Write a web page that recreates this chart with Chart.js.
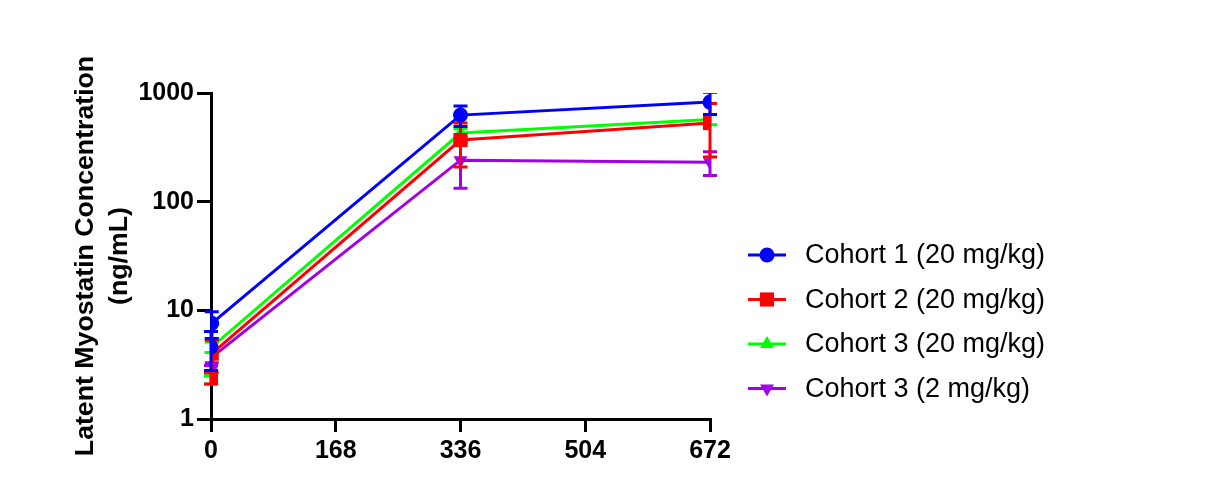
<!DOCTYPE html>
<html>
<head>
<meta charset="utf-8">
<script src="https://cdn.jsdelivr.net/npm/chart.js@4/dist/chart.umd.min.js"></script>
<style>
  html, body { margin: 0; padding: 0; background: #fff; }
</style>
</head>
<body>
<canvas id="chart" width="1210" height="478"></canvas>
<script>
// Sample times (hours) and values
const hours = [0, 1, 336, 672];
const xTicks = [0, 168, 336, 504, 672];
const yTicks = [1, 10, 100, 1000];

const seriesLabels = ["Cohort 1 (20 mg/kg)", "Cohort 2 (20 mg/kg)", "Cohort 3 (20 mg/kg)", "Cohort 3 (2 mg/kg)"];

const cohort1Mean = [4.6, 7.6, 626, 825];
const cohort1Sd = [1.8, 2.1, 134, 190];
const cohort2Mean = [2.4, 4.0, 369, 529];
const cohort2Sd = [0.3, 1.3, 160, 272];
const cohort3Mean = [2.3, 4.6, 428, 570];
const cohort3Sd = [0.2, 0.5, 40, 60];
const cohort3LowMean = [2.8, 3.7, 241, 231];
const cohort3LowSd = [0.3, 0.4, 108, 57];

const FONT = "'Liberation Sans', Arial, Helvetica, sans-serif";

function makeDataset(label, mean, sd, color, style, radius, rotation, order) {
  return {
    label: label,
    data: hours.map((h, i) => ({ x: h, y: mean[i] })),
    sd: sd,
    borderColor: color,
    backgroundColor: color,
    borderWidth: 3,
    tension: 0,
    pointStyle: style,
    pointRadius: radius,
    pointRotation: rotation,
    pointBorderWidth: 0,
    pointBackgroundColor: color,
    order: order,
  };
}

// Error bars, drawn under each dataset's line and markers, clipped to the plot
const errorBars = {
  id: "errorBars",
  beforeDatasetDraw(chart, args) {
    const ds = chart.data.datasets[args.index];
    if (!ds.sd) return;
    const { ctx, chartArea } = chart;
    const xs = chart.scales.x;
    const ys = chart.scales.y;
    ctx.save();
    ctx.beginPath();
    ctx.rect(chartArea.left - 20, chartArea.top, chartArea.width + 40, chartArea.height + 1);
    ctx.clip();
    ctx.strokeStyle = ds.borderColor;
    ctx.lineWidth = 3;
    ds.data.forEach((p, i) => {
      const px = xs.getPixelForValue(p.x);
      const top = ys.getPixelForValue(p.y + ds.sd[i]);
      const bot = ys.getPixelForValue(Math.max(p.y - ds.sd[i], 0.01));
      ctx.beginPath();
      ctx.moveTo(px, top);
      ctx.lineTo(px, bot);
      ctx.moveTo(px - 7, top);
      ctx.lineTo(px + 7, top);
      ctx.moveTo(px - 7, bot);
      ctx.lineTo(px + 7, bot);
      ctx.stroke();
    });
    ctx.restore();
  },
};

// Legend on the right: short line with the marker, then the label
const sideLegend = {
  id: "sideLegend",
  afterDraw(chart) {
    const { ctx } = chart;
    const startY = 255;
    const step = 44.5;
    ctx.save();
    chart.data.datasets.forEach((ds, i) => {
      const y = startY + i * step;
      ctx.strokeStyle = ds.borderColor;
      ctx.fillStyle = ds.borderColor;
      ctx.lineWidth = 3;
      ctx.beginPath();
      ctx.moveTo(748, y);
      ctx.lineTo(786, y);
      ctx.stroke();
      Chart.helpers.drawPoint(ctx, {
        pointStyle: ds.pointStyle,
        radius: ds.pointRadius,
        rotation: ds.pointRotation,
        borderWidth: 0,
      }, 767, y);
      ctx.fillStyle = "#000";
      ctx.font = "27px " + FONT;
      ctx.textBaseline = "middle";
      ctx.textAlign = "left";
      ctx.fillText(ds.label, 805, y + 1);
    });
    ctx.restore();
  },
};

const ctx = document.getElementById("chart").getContext("2d");

new Chart(ctx, {
  type: "line",
  data: {
    datasets: [
      makeDataset(seriesLabels[0], cohort1Mean, cohort1Sd, "#0000FF", "circle", 7.5, 0, 1),
      makeDataset(seriesLabels[1], cohort2Mean, cohort2Sd, "#FF0000", "rect", 10, 0, 2),
      makeDataset(seriesLabels[2], cohort3Mean, cohort3Sd, "#00FF00", "triangle", 8, 0, 3),
      makeDataset(seriesLabels[3], cohort3LowMean, cohort3LowSd, "#A100E8", "triangle", 8, 180, 4),
    ],
  },
  options: {
    responsive: false,
    animation: false,
    layout: { padding: { left: 65, top: 93, right: 500, bottom: 0 } },
    plugins: {
      legend: { display: false },
      tooltip: { enabled: false },
    },
    scales: {
      x: {
        type: "linear",
        min: 0,
        max: 672,
        afterBuildTicks: (s) => { s.ticks = xTicks.map((v) => ({ value: v })); },
        afterFit: (s) => { s.height = 59; },
        ticks: {
          color: "#000",
          font: { family: FONT, size: 25, weight: "bold" },
          padding: 4,
        },
        grid: { drawOnChartArea: false, tickLength: 13, color: "#000", lineWidth: 3 },
        border: { color: "#000", width: 3 },
      },
      y: {
        type: "logarithmic",
        min: 1,
        max: 1000,
        afterBuildTicks: (s) => { s.ticks = yTicks.map((v) => ({ value: v })); },
        afterFit: (s) => { s.width = 211 - 65; },
        ticks: {
          color: "#000",
          font: { family: FONT, size: 25, weight: "bold" },
          padding: 3,
          callback: (v) => String(v),
        },
        grid: { drawOnChartArea: false, tickLength: 14, color: "#000", lineWidth: 3 },
        border: { color: "#000", width: 3 },
        title: {
          display: true,
          text: ["Latent Myostatin Concentration", "(ng/mL)"],
          color: "#000",
          font: { family: FONT, size: 26.7, weight: "bold", lineHeight: 1.27 },
          padding: { top: 4, bottom: 0 },
        },
      },
    },
  },
  plugins: [errorBars, sideLegend],
});
</script>
</body>
</html>
